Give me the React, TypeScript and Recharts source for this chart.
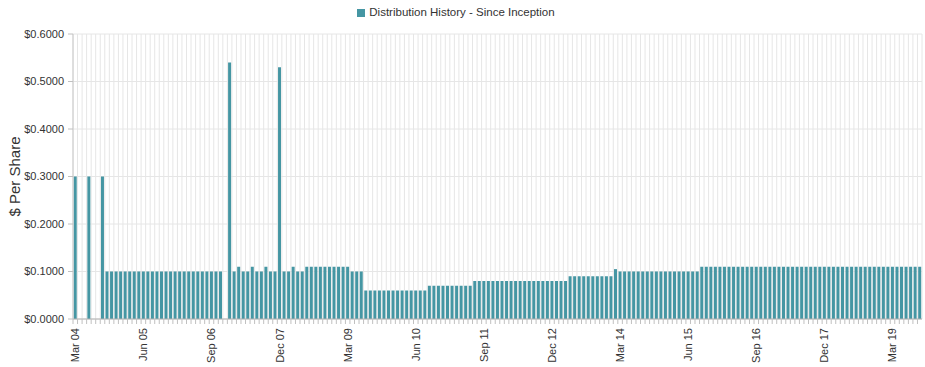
import React from 'react';
import { BarChart, Bar, XAxis, YAxis, CartesianGrid, Legend } from 'recharts';

const MONTHS = ['Jan', 'Feb', 'Mar', 'Apr', 'May', 'Jun', 'Jul', 'Aug', 'Sep', 'Oct', 'Nov', 'Dec'];
const START_YEAR = 2004;
const START_MONTH = 2; // Mar 04

// $ per share paid each month, Mar 04 .. Sep 19 (0 = nothing paid)
const distributions = [
  // 2004 (Mar-Dec)
  0.3, 0, 0, 0.3, 0, 0, 0.3, 0.1, 0.1, 0.1,
  // 2005
  0.1, 0.1, 0.1, 0.1, 0.1, 0.1, 0.1, 0.1, 0.1, 0.1, 0.1, 0.1,
  // 2006
  0.1, 0.1, 0.1, 0.1, 0.1, 0.1, 0.1, 0.1, 0.1, 0.1, 0.1, 0,
  // 2007
  0.54, 0.1, 0.11, 0.1, 0.1, 0.11, 0.1, 0.1, 0.11, 0.1, 0.1, 0.53,
  // 2008
  0.1, 0.1, 0.11, 0.1, 0.1, 0.11, 0.11, 0.11, 0.11, 0.11, 0.11, 0.11,
  // 2009
  0.11, 0.11, 0.11, 0.1, 0.1, 0.1, 0.06, 0.06, 0.06, 0.06, 0.06, 0.06,
  // 2010
  0.06, 0.06, 0.06, 0.06, 0.06, 0.06, 0.06, 0.06, 0.07, 0.07, 0.07, 0.07,
  // 2011
  0.07, 0.07, 0.07, 0.07, 0.07, 0.07, 0.08, 0.08, 0.08, 0.08, 0.08, 0.08,
  // 2012
  0.08, 0.08, 0.08, 0.08, 0.08, 0.08, 0.08, 0.08, 0.08, 0.08, 0.08, 0.08,
  // 2013
  0.08, 0.08, 0.08, 0.09, 0.09, 0.09, 0.09, 0.09, 0.09, 0.09, 0.09, 0.09,
  // 2014
  0.09, 0.105, 0.1, 0.1, 0.1, 0.1, 0.1, 0.1, 0.1, 0.1, 0.1, 0.1,
  // 2015
  0.1, 0.1, 0.1, 0.1, 0.1, 0.1, 0.1, 0.1, 0.11, 0.11, 0.11, 0.11,
  // 2016
  0.11, 0.11, 0.11, 0.11, 0.11, 0.11, 0.11, 0.11, 0.11, 0.11, 0.11, 0.11,
  // 2017
  0.11, 0.11, 0.11, 0.11, 0.11, 0.11, 0.11, 0.11, 0.11, 0.11, 0.11, 0.11,
  // 2018
  0.11, 0.11, 0.11, 0.11, 0.11, 0.11, 0.11, 0.11, 0.11, 0.11, 0.11, 0.11,
  // 2019 (Jan-Sep)
  0.11, 0.11, 0.11, 0.11, 0.11, 0.11, 0.11, 0.11, 0.11,
];

const yTicks = [0, 0.1, 0.2, 0.3, 0.4, 0.5, 0.6];
const LABEL_EVERY = 15;

const monthLabel = (i: number) => {
  const m = START_MONTH + i;
  const yr = (START_YEAR + Math.floor(m / 12)) % 100;
  return `${MONTHS[m % 12]} ${String(yr).padStart(2, '0')}`;
};

const data = distributions.map((v, i) => ({ month: monthLabel(i), value: v }));

const TICK_SIZE = 5;
const TICK_MARGIN = 4;

const MonthTick = (props: any) => {
  const { x, y, payload, index } = props;
  const half = payload?.offset ?? 0;
  const top = y - TICK_MARGIN - TICK_SIZE;
  return (
    <g>
      <line x1={x - half} x2={x - half} y1={top} y2={top + TICK_SIZE} stroke="#c0c0c0" />
      {index % LABEL_EVERY === 0 && (
        <text
          x={x}
          y={y}
          transform={`rotate(-90 ${x} ${y})`}
          textAnchor="end"
          dominantBaseline="central"
          fontSize={11}
          fill="#333"
        >
          {payload.value}
        </text>
      )}
    </g>
  );
};

const boundaryLines = ({ offset }: any) => {
  const n = data.length;
  const step = offset.width / n;
  return Array.from({ length: n + 1 }, (_, i) => offset.left + i * step);
};

const YLabel = (props: any) => {
  const vb = props.viewBox || { x: 0, y: 0, height: 0 };
  const cx = vb.x + 14;
  const cy = vb.y + vb.height / 2;
  return (
    <text
      x={cx}
      y={cy}
      transform={`rotate(-90 ${cx} ${cy})`}
      textAnchor="middle"
      dominantBaseline="central"
      fontSize={15}
      fill="#333"
    >
      $ Per Share
    </text>
  );
};

export default function App() {
  return (
    <div style={{ position: 'absolute', left: 0, top: 0, fontFamily: '"Liberation Sans", Arial, sans-serif' }}>
      <BarChart
        width={925}
        height={367}
        data={data}
        margin={{ top: 22, right: 3, bottom: 0, left: 0 }}
        barCategoryGap="16%"
      >
        <CartesianGrid
          stroke="#e6e6e6"
          verticalCoordinatesGenerator={boundaryLines}
        />
        <XAxis
          dataKey="month"
          interval={0}
          height={48}
          tickSize={TICK_SIZE}
          tickMargin={TICK_MARGIN}
          tickLine={false}
          axisLine={{ stroke: '#b0b0b0' }}
          tick={<MonthTick />}
        />
        <YAxis
          width={73}
          domain={[0, 0.6]}
          ticks={yTicks}
          interval={0}
          tickFormatter={(v: number) => `$${v.toFixed(4)}`}
          tick={{ fontSize: 11, fill: '#333' }}
          tickSize={5}
          tickMargin={4}
          tickLine={{ stroke: '#c0c0c0' }}
          axisLine={{ stroke: '#c8c8c8' }}
          label={<YLabel />}
        />
        <Legend
          verticalAlign="top"
          align="center"
          iconType="square"
          iconSize={8}
          wrapperStyle={{ top: 6, fontSize: 11.5 }}
          formatter={(v: string) => <span style={{ color: '#333' }}>{v}</span>}
        />
        <Bar
          dataKey="value"
          name="Distribution History - Since Inception"
          fill="#4596a3"
          isAnimationActive={false}
        />
      </BarChart>
    </div>
  );
}
